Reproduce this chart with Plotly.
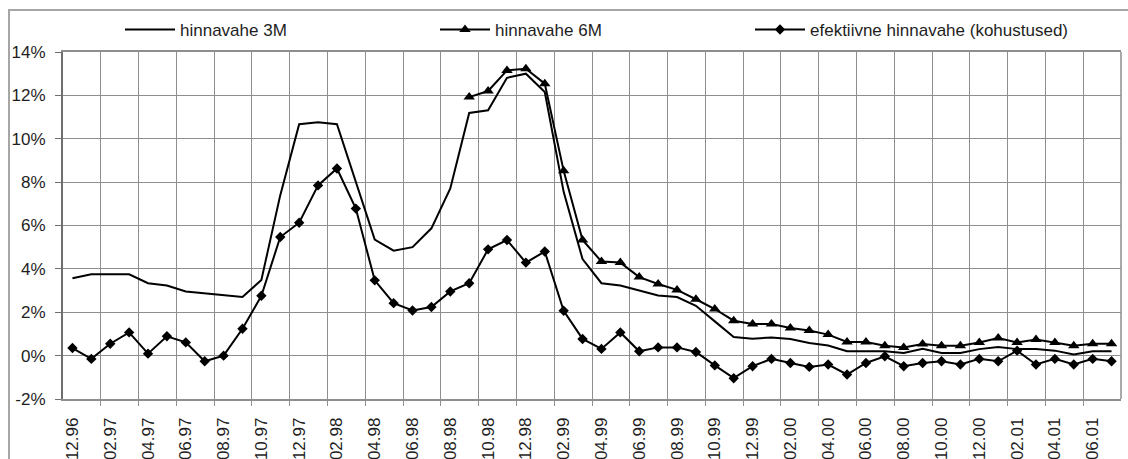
import plotly.graph_objects as go

# Monthly observations, 12.96 ... 07.01 (56 months)
n_months = 56
x_idx = list(range(n_months))

tick_labels = [
    "12.96", "02.97", "04.97", "06.97", "08.97", "10.97", "12.97",
    "02.98", "04.98", "06.98", "08.98", "10.98", "12.98",
    "02.99", "04.99", "06.99", "08.99", "10.99", "12.99",
    "02.00", "04.00", "06.00", "08.00", "10.00", "12.00",
    "02.01", "04.01", "06.01",
]

spread_3m = [
    3.57, 3.75, 3.75, 3.75, 3.34, 3.23, 2.96, 2.88, 2.79, 2.70,
    3.49, 7.40, 10.67, 10.76, 10.67, 8.00, 5.35, 4.84, 5.00, 5.87,
    7.71, 11.19, 11.31, 12.81, 13.00, 12.15, 7.55, 4.45, 3.34, 3.23,
    2.99, 2.77, 2.70, 2.30, 1.58, 0.86, 0.78, 0.84, 0.77, 0.58,
    0.47, 0.20, 0.20, 0.20, 0.12, 0.32, 0.12, 0.12, 0.30, 0.40,
    0.30, 0.30, 0.23, 0.05, 0.20, 0.20,
]

spread_6m = [None] * 21 + [
    11.92, 12.20, 13.15, 13.23, 12.54, 8.52, 5.33, 4.34, 4.29,
    3.62, 3.30, 3.03, 2.60, 2.15, 1.61, 1.46, 1.46, 1.27, 1.16,
    0.97, 0.63, 0.63, 0.46, 0.38, 0.54, 0.46, 0.46, 0.61, 0.81,
    0.61, 0.74, 0.61, 0.46, 0.55, 0.55,
]

spread_eff = [
    0.35, -0.15, 0.55, 1.07, 0.09, 0.89, 0.61, -0.26, 0.00, 1.24,
    2.76, 5.47, 6.13, 7.85, 8.63, 6.78, 3.47, 2.42, 2.08, 2.24,
    2.96, 3.34, 4.90, 5.33, 4.29, 4.80, 2.07, 0.77, 0.31, 1.07,
    0.20, 0.38, 0.38, 0.17, -0.45, -1.04, -0.49, -0.15, -0.34, -0.52,
    -0.41, -0.87, -0.34, -0.03, -0.49, -0.34, -0.26, -0.41, -0.15, -0.26,
    0.23, -0.41, -0.15, -0.41, -0.15, -0.26,
]

y_ticks = [-2, 0, 2, 4, 6, 8, 10, 12, 14]
y_tick_text = ["-2%", "0%", "2%", "4%", "6%", "8%", "10%", "12%", "14%"]

FONT = "Liberation Sans, Arial, sans-serif"
INK = "#1e1e1e"
GRID = "#8e8e8e"
FS = 17

W, H = 1128, 459
ML, MR, MT, MB = 63, 7, 52, 60
PW, PH = W - ML - MR, H - MT - MB


def px_x(px):
    return (px - ML) / PW


def px_y(py):
    return (H - MB - py) / PH


fig = go.Figure()

fig.add_trace(go.Scatter(
    x=x_idx, y=spread_3m, name="hinnavahe 3M", mode="lines",
    line=dict(color="black", width=2), legend="legend",
))
fig.add_trace(go.Scatter(
    x=x_idx, y=spread_6m, name="hinnavahe 6M", mode="lines+markers",
    line=dict(color="black", width=2),
    marker=dict(symbol="triangle-up", size=10, color="black"),
    legend="legend2",
))
fig.add_trace(go.Scatter(
    x=x_idx, y=spread_eff, name="efektiivne hinnavahe (kohustused)",
    mode="lines+markers",
    line=dict(color="black", width=2),
    marker=dict(symbol="diamond", size=8, color="black"),
    legend="legend3",
))

legend_style = dict(
    orientation="h", yanchor="middle", xanchor="left",
    bgcolor="rgba(0,0,0,0)", borderwidth=0, itemwidth=50,
    font=dict(family=FONT, size=FS, color=INK),
)

fig.update_layout(
    width=W, height=H,
    margin=dict(l=ML, r=MR, t=MT, b=MB, autoexpand=False),
    paper_bgcolor="white", plot_bgcolor="white",
    font=dict(family=FONT, size=FS, color=INK),
    showlegend=True,
    legend=dict(x=px_x(120), y=px_y(30), **legend_style),
    legend2=dict(x=px_x(435), y=px_y(30), **legend_style),
    legend3=dict(x=px_x(750), y=px_y(30), **legend_style),
    xaxis=dict(
        range=[-0.5, n_months - 0.5],
        automargin=False,
        tickmode="array",
        tickvals=x_idx[::2],
        ticktext=tick_labels,
        tickangle=-90,
        ticks="",
        ticklabelstandoff=10,
        showgrid=False,
        zeroline=False,
        showline=True, linecolor=GRID, linewidth=1.5, mirror=True,
        tickfont=dict(family=FONT, size=FS, color=INK),
        minor=dict(
            tickmode="array",
            tickvals=[i + 1.5 for i in range(0, n_months - 2, 2)],
            showgrid=True, gridcolor=GRID, gridwidth=1,
            ticks="outside", ticklen=5, tickcolor=GRID, tickwidth=1,
        ),
    ),
    yaxis=dict(
        range=[-2, 14],
        automargin=False,
        tickmode="array",
        tickvals=y_ticks,
        ticktext=y_tick_text,
        ticks="outside", ticklen=6, tickcolor="#6e6e6e",
        ticklabelstandoff=6,
        showgrid=True, gridcolor=GRID, gridwidth=1,
        zeroline=False,
        showline=True, linecolor="#6e6e6e", linewidth=2,
        tickfont=dict(family=FONT, size=FS, color=INK),
    ),
    shapes=[
        # right edge of the plotting area
        dict(type="line", xref="paper", yref="paper", x0=1, x1=1, y0=0, y1=1,
             line=dict(color=GRID, width=1.5)),
        # outer chart frame
        dict(type="rect", xref="paper", yref="paper",
             x0=px_x(9), x1=px_x(1140), y0=px_y(475), y1=px_y(10),
             line=dict(color="#a6a6a6", width=2), layer="below"),
    ],
)

fig.write_html("out.html")
